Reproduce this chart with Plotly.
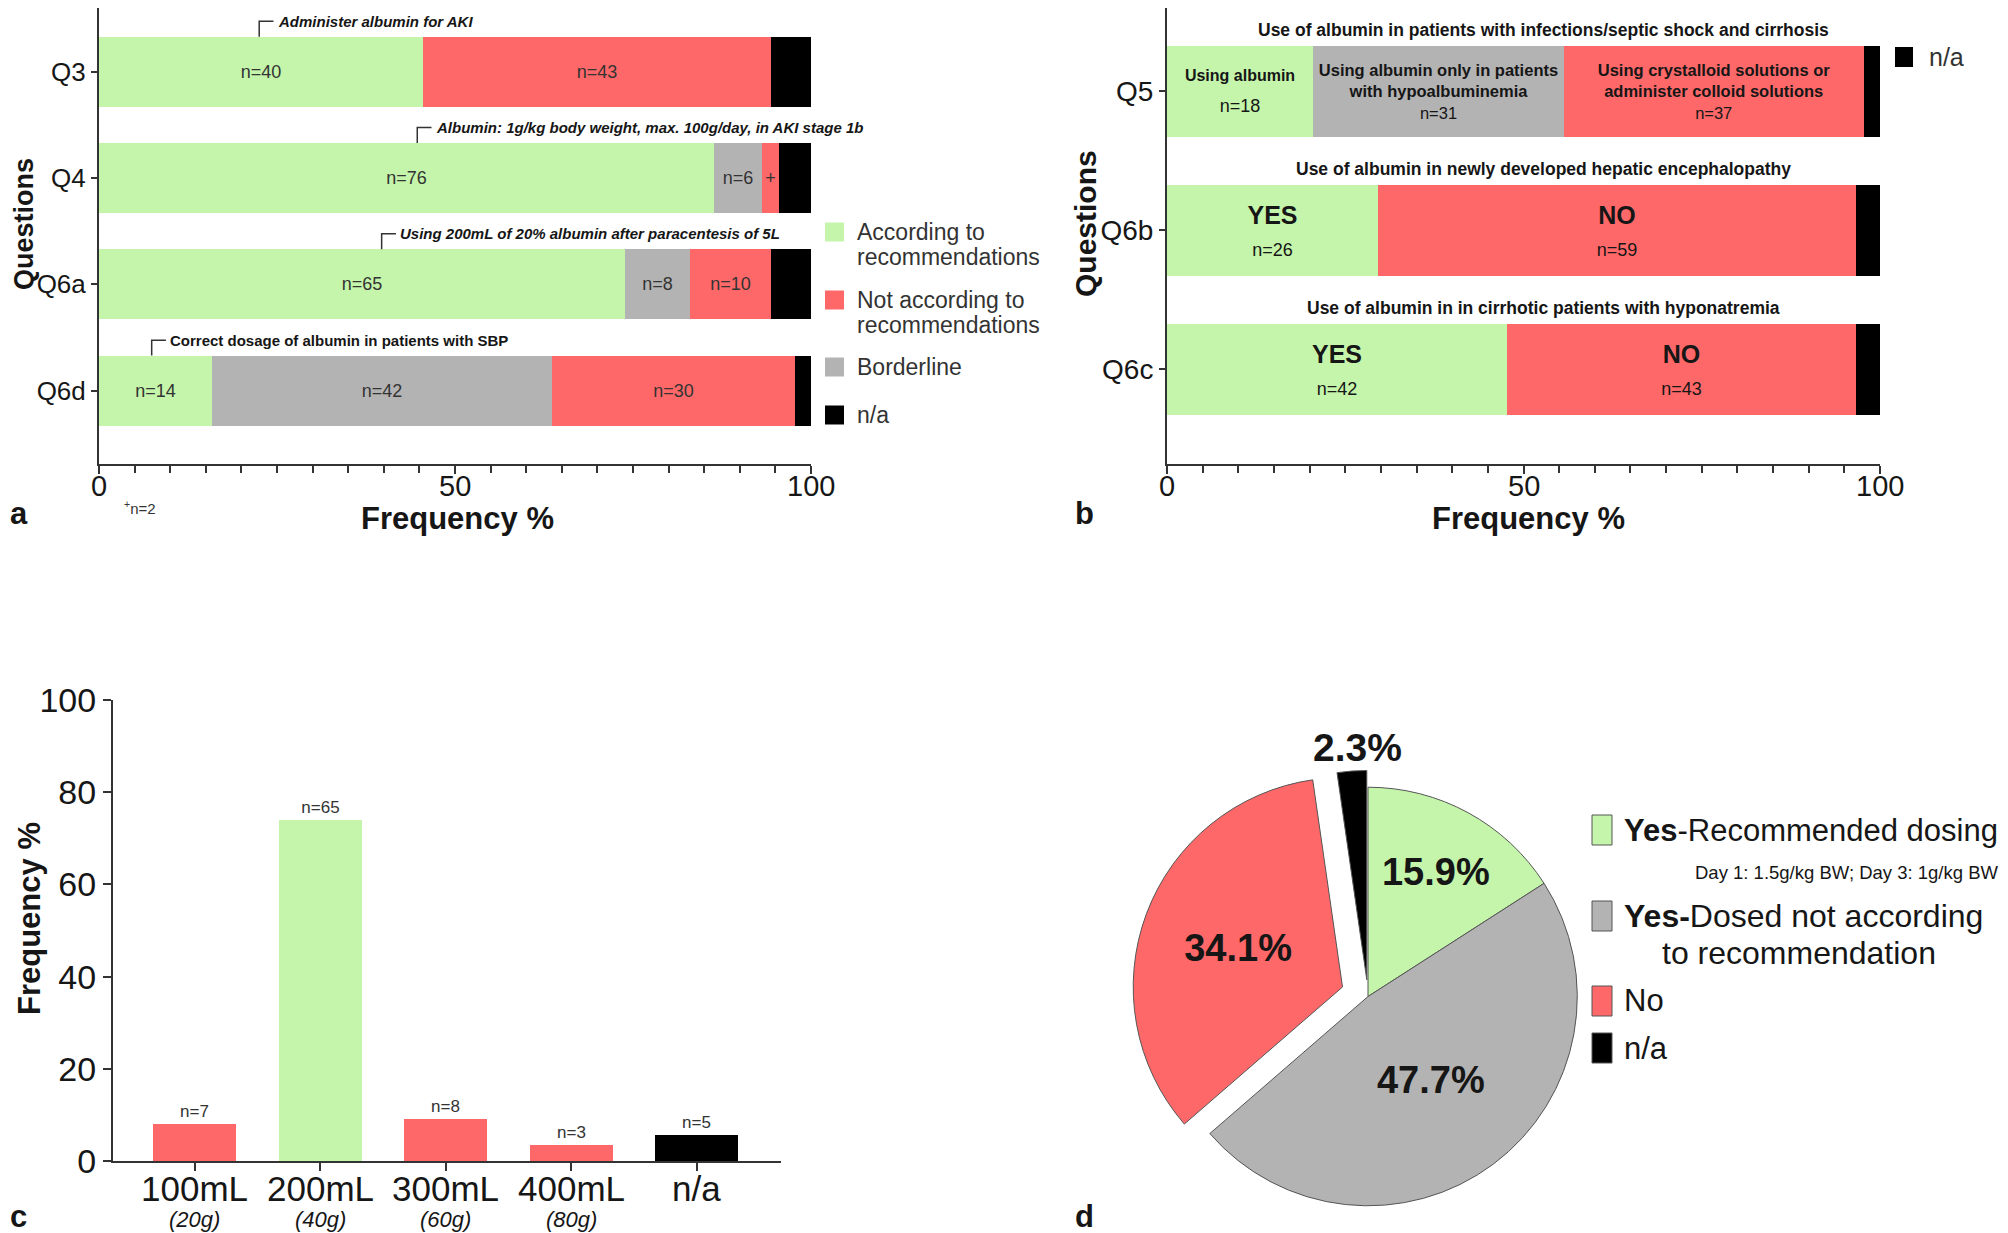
import plotly.graph_objects as go

# page body keeps an 8px margin, so the figure is drawn 8px in from the top-left
OFF = 8
W, H = 2000, 1225

# ---- data: answer counts per question (88 respondents) ----
total = 88

questions_a = ["Q3", "Q4", "Q6a", "Q6d"]
a_according = [40, 76, 65, 14]
a_borderline = [0, 6, 8, 42]
a_not_according = [43, 2, 10, 30]
a_na = [5, 4, 5, 2]
a_according_text = ["n=40", "n=76", "n=65", "n=14"]
a_borderline_text = ["", "n=6", "n=8", "n=42"]
a_not_text = ["n=43", "+", "n=10", "n=30"]
a_callouts = [
    "<i>Administer albumin for AKI</i>",
    "<i>Albumin: 1g/kg body weight, max. 100g/day, in AKI stage 1b</i>",
    "<i>Using 200mL of 20% albumin after paracentesis of 5L</i>",
    "Correct dosage of albumin in patients with SBP",
]

questions_b = ["Q5", "Q6b", "Q6c"]
b_yes = [18, 26, 42]
b_borderline = [31, 0, 0]
b_no = [37, 59, 43]
b_na = [2, 3, 3]
b_titles = [
    "Use of albumin in patients with infections/septic shock and cirrhosis",
    "Use of albumin in newly developed hepatic encephalopathy",
    "Use of albumin in in cirrhotic patients with hyponatremia",
]
b_yes_text = [
    "<span style='font-size:16px'><b>Using albumin</b></span><br><span style='font-size:18px'>n=18</span>",
    "<b>YES</b><br><span style='font-size:18px'>n=26</span>",
    "<b>YES</b><br><span style='font-size:18px'>n=42</span>",
]
b_borderline_text = ["<b>Using albumin only in patients<br>with hypoalbuminemia</b><br>n=31", "", ""]
b_no_text = [
    "<b>Using crystalloid solutions or<br>administer colloid solutions</b><br>n=37",
    "<b>NO</b><br><span style='font-size:18px'>n=59</span>",
    "<b>NO</b><br><span style='font-size:18px'>n=43</span>",
]

freq_ticks = [0, 50, 100]

c_doses = ["100mL", "200mL", "300mL", "400mL", "n/a"]
c_grams = ["(20g)", "(40g)", "(60g)", "(80g)", ""]
c_counts = [7, 65, 8, 3, 5]
c_groups = ["not", "according", "not", "not", "na"]

d_labels = ["Yes-Recommended dosing", "Yes-Dosed not according to recommendation", "No", "n/a"]
d_counts = [14, 42, 30, 2]

# ---- style ----
FONT = "Liberation Sans, Arial, sans-serif"
INK = "#161616"
SOFT = "#333333"
GREEN = "#c4f5aa"
RED = "#ff6868"
GRAY = "#b3b3b3"
BLACK = "#000000"
group_colors = {"according": GREEN, "not": RED, "border": GRAY, "na": BLACK}


def pct(values):
    return [v / total * 100 for v in values]


def px(x):
    return (x - OFF) / W


def py(y):
    return 1 - (y - OFF) / H


fig = go.Figure()

# panel a
for vals, color, text in [
    (a_according, GREEN, a_according_text),
    (a_borderline, GRAY, a_borderline_text),
    (a_not_according, RED, a_not_text),
    (a_na, BLACK, None),
]:
    fig.add_trace(go.Bar(
        x=pct(vals), y=list(range(len(questions_a))), orientation="h",
        marker=dict(color=color, line=dict(width=0)), width=0.66,
        text=text, textposition="inside" if text else "none", insidetextanchor="middle", textangle=0,
        constraintext="none", textfont=dict(size=18, color=SOFT, family=FONT),
        xaxis="x", yaxis="y", showlegend=False, hoverinfo="skip",
    ))

# panel b
for vals, color, text, sizes in [
    (b_yes, GREEN, b_yes_text, [24, 25, 25]),
    (b_borderline, GRAY, b_borderline_text, [16.5, 16.5, 16.5]),
    (b_no, RED, b_no_text, [16.5, 25, 25]),
    (b_na, BLACK, None, [16, 16, 16]),
]:
    fig.add_trace(go.Bar(
        x=pct(vals), y=list(range(len(questions_b))), orientation="h",
        marker=dict(color=color, line=dict(width=0)), width=0.655,
        text=text, textposition="inside" if text else "none", insidetextanchor="middle", textangle=0,
        constraintext="none", textfont=dict(size=sizes, color=INK, family=FONT),
        xaxis="x2", yaxis="y2", showlegend=False, hoverinfo="skip",
    ))

# panel c
fig.add_trace(go.Bar(
    x=list(range(len(c_doses))), y=pct(c_counts),
    marker=dict(color=[group_colors[g] for g in c_groups], line=dict(width=0)), width=0.66,
    text=[f"n={n}" for n in c_counts], textposition="outside", constraintext="none",
    textfont=dict(size=17, color=SOFT, family=FONT), cliponaxis=False,
    xaxis="x3", yaxis="y3", showlegend=False, hoverinfo="skip",
))

# panel d
fig.add_trace(go.Pie(
    values=d_counts, labels=d_labels, sort=False, direction="clockwise", rotation=0,
    pull=[0, 0, 0.13, 0.08],
    marker=dict(colors=[GREEN, GRAY, RED, BLACK], line=dict(color="#555555", width=1)),
    texttemplate="<b>%{percent:.1%}</b>", textposition=["inside", "inside", "inside", "none"],
    insidetextorientation="horizontal",
    textfont=dict(size=38, color=INK, family=FONT),
    domain=dict(x=[px(1128), px(1608)], y=[0, py(760)]),
    showlegend=False, hoverinfo="skip",
))

axis = dict(
    showline=True, linecolor="#333333", linewidth=2, ticks="outside", tickcolor="#333333",
    tickwidth=2, ticklen=8, showgrid=False, zeroline=False, fixedrange=True, automargin=False,
    tickfont=dict(size=29, color=INK, family=FONT),
)
minor = dict(dtick=5, ticks="outside", ticklen=7, tickwidth=1.5, tickcolor="#333333", showgrid=False)

fig.update_layout(
    width=W, height=H, margin=dict(l=0, r=0, t=0, b=0, autoexpand=False),
    paper_bgcolor="white", plot_bgcolor="white", barmode="stack", bargap=0,
    font=dict(family=FONT, color=INK),
    xaxis=dict(axis, domain=[px(99), px(811)], range=[0, 100], tickvals=freq_ticks, minor=minor,
               showticklabels=False, anchor="y"),
    yaxis=dict(axis, domain=[py(464), 1], range=[3.69, -0.60], tickvals=list(range(4)),
               ticktext=questions_a, ticklen=6, tickfont=dict(size=26, color=INK, family=FONT), anchor="x"),
    xaxis2=dict(axis, domain=[px(1167), px(1880)], range=[0, 100], tickvals=freq_ticks, minor=minor,
                showticklabels=False, anchor="y2"),
    yaxis2=dict(axis, domain=[py(464), 1], range=[2.68, -0.60], tickvals=list(range(3)),
                ticktext=questions_b, ticklen=6, tickfont=dict(size=28, color=INK, family=FONT), anchor="x2"),
    xaxis3=dict(axis, domain=[px(113), px(781)], range=[-0.65, 4.67], tickvals=list(range(5)),
                showticklabels=False, anchor="y3"),
    yaxis3=dict(axis, domain=[py(1161), py(700)], range=[0, 100], dtick=20,
                tickfont=dict(size=34, color=INK, family=FONT), anchor="x3"),
)


def paper_text(x, y, text, size, xanchor="center", color=INK, angle=0):
    fig.add_annotation(x=px(x), y=py(y), xref="paper", yref="paper", text=text,
                       showarrow=False, xanchor=xanchor, yanchor="middle", textangle=angle,
                       font=dict(size=size, color=color, family=FONT))


def paper_box(x0, yc, w, h, color, outline=None):
    fig.add_shape(type="rect", xref="paper", yref="paper", x0=px(x0), x1=px(x0 + w),
                  y0=py(yc + h / 2), y1=py(yc - h / 2), fillcolor=color,
                  line=dict(width=1 if outline else 0, color=outline or color))


# frequency tick labels of panels a and b, set close to the axis line
for xref in ["x", "x2"]:
    for t in freq_ticks:
        fig.add_annotation(x=t, y=py(486), xref=xref, yref="paper", text=str(t),
                           showarrow=False, xanchor="center", yanchor="middle",
                           font=dict(size=29, color=INK, family=FONT))

# callouts above the bars of panel a
for i, (text, xb) in enumerate(zip(a_callouts, [22.5, 44.7, 39.7, 7.4])):
    fig.add_shape(type="path", xref="x", yref="y",
                  path=f"M {xb},{i - 0.33} L {xb},{i - 0.475} L {xb + 2.0},{i - 0.475}",
                  line=dict(color="#333333", width=1.5))
    fig.add_annotation(x=xb + 2.3, y=i - 0.475, xref="x", yref="y", text=f"<b>{text}</b>",
                       showarrow=False, xanchor="left", yanchor="middle",
                       font=dict(size=15, color=INK, family=FONT))

# titles above the bars of panel b
for i, text in enumerate(b_titles):
    fig.add_annotation(x=52.8, y=i - 0.44, xref="x2", yref="y2", text=f"<b>{text}</b>",
                       showarrow=False, xanchor="center", yanchor="middle",
                       font=dict(size=17.5, color=INK, family=FONT))

# dose and gram labels under panel c
for i, (dose, g) in enumerate(zip(c_doses, c_grams)):
    fig.add_annotation(x=i, y=py(1188), xref="x3", yref="paper", text=dose,
                       showarrow=False, xanchor="center", yanchor="middle",
                       font=dict(size=35, color=INK, family=FONT))
    if g:
        fig.add_annotation(x=i, y=py(1219), xref="x3", yref="paper", text=f"<i>{g}</i>",
                           showarrow=False, xanchor="center", yanchor="middle",
                           font=dict(size=22, color=INK, family=FONT))

# outside label of the small pie slice
fig.add_annotation(x=px(1357), y=py(747), xref="paper", yref="paper",
                   text=f"<b>{d_counts[-1] / sum(d_counts) * 100:.1f}%</b>", showarrow=False,
                   xanchor="center", yanchor="middle", font=dict(size=39, color=INK, family=FONT))

# axis titles and panel letters
paper_text(457, 518, "<b>Frequency %</b>", 31)
paper_text(1528, 518, "<b>Frequency %</b>", 31)
paper_text(24, 224, "<b>Questions</b>", 27, angle=-90)
paper_text(1085, 224, "<b>Questions</b>", 30, angle=-90)
paper_text(29, 919, "<b>Frequency %</b>", 31, angle=-90)
paper_text(122, 507, "<sup>+</sup>n=2", 15, xanchor="left", color=SOFT)
paper_text(8, 513, "<b>a</b>", 31, xanchor="left")
paper_text(1084, 513, "<b>b</b>", 31)
paper_text(8, 1216, "<b>c</b>", 31, xanchor="left")
paper_text(1084, 1216, "<b>d</b>", 31)

# legend of panel a
paper_box(825, 232, 19, 19, GREEN)
paper_text(855, 232, "According to", 23, xanchor="left", color=SOFT)
paper_text(855, 257, "recommendations", 23, xanchor="left", color=SOFT)
paper_box(825, 300, 19, 19, RED)
paper_text(855, 300, "Not according to", 23, xanchor="left", color=SOFT)
paper_text(855, 325, "recommendations", 23, xanchor="left", color=SOFT)
paper_box(825, 367, 19, 19, GRAY)
paper_text(855, 367, "Borderline", 23, xanchor="left", color=SOFT)
paper_box(825, 415, 19, 19, BLACK)
paper_text(855, 415, "n/a", 23, xanchor="left", color=SOFT)

# legend of panel b
paper_box(1895, 57, 18, 20, BLACK)
paper_text(1927, 57, "n/a", 25, xanchor="left", color=SOFT)

# legend of panel d
paper_box(1592, 830, 20, 30, GREEN, "#555555")
paper_text(1622, 830, "<b>Yes</b>-Recommended dosing", 31, xanchor="left")
paper_text(2001, 872, "Day 1: 1.5g/kg BW; Day 3: 1g/kg BW", 18.5, xanchor="right")
paper_box(1592, 916, 20, 30, GRAY, "#555555")
paper_text(1622, 916, "<b>Yes-</b>Dosed not according", 32, xanchor="left")
paper_text(1660, 953, "to recommendation", 32, xanchor="left")
paper_box(1592, 1001, 20, 30, RED, "#555555")
paper_text(1622, 1001, "No", 31, xanchor="left")
paper_box(1592, 1048, 20, 30, BLACK, "#555555")
paper_text(1622, 1048, "n/a", 31, xanchor="left")

fig.write_html("out.html")
